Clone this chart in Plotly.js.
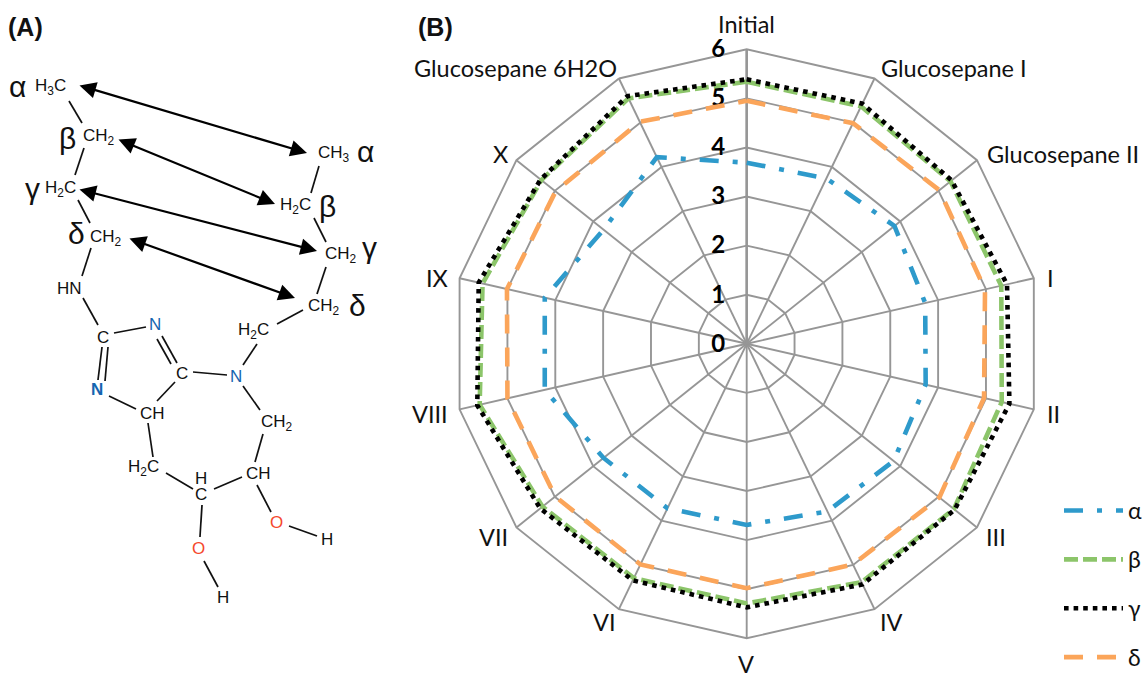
<!DOCTYPE html>
<html>
<head>
<meta charset="utf-8">
<script src="https://cdn.plot.ly/plotly-3.0.1.min.js"></script>
<style>html,body{margin:0;padding:0;background:#fff;overflow:hidden}#chart{width:1142px;height:675px}</style>
</head>
<body>
<div id="chart"></div>
<script>
// Radar data (one value per category)
var categories = ["Initial","Glucosepane I","Glucosepane II","I","II","III","IV","V","VI","VII","VIII","IX","X","Glucosepane 6H2O"];
var alpha = [3.69,3.74,3.85,3.73,3.74,3.83,3.79,3.69,3.72,3.73,4.22,4.22,3.73,4.22];
var beta  = [5.34,5.37,5.31,5.32,5.33,5.40,5.39,5.29,5.30,5.32,5.58,5.52,5.35,5.55];
var gamma = [5.39,5.43,5.34,5.44,5.49,5.42,5.44,5.37,5.35,5.38,5.63,5.60,5.37,5.60];
var delta = [4.95,4.99,5.02,4.98,4.96,5.02,4.99,4.98,4.99,4.99,5.00,5.01,4.98,5.02];
var radialTicks = [0,1,2,3,4,5,6];
// Centres of the category labels, in picture pixels, same order as categories
var categoryLabelX = [747,954,1063,1050,1053,996,891,746,604,493,430,437,500,515];
var categoryLabelY = [24,68,154,278,414,537,622,664,622,537,414,278,154,68];

// Molecule diagram of panel (A), in picture pixels
var atoms = [
 ["H<sub>3</sub>C",50,87],["CH<sub>2</sub>",99,137],["H<sub>2</sub>C",60,189],["CH<sub>2</sub>",106,238],["HN",69,288],
 ["CH<sub>3</sub>",334,154],["H<sub>2</sub>C",295,206],["CH<sub>2</sub>",341,255],["CH<sub>2</sub>",324,307],["H<sub>2</sub>C",253,331],
 ["C",103,337],["CH",152,413],["CH<sub>2</sub>",277,423],["H<sub>2</sub>C",143,468],["H",201,478],["C",201,494],["CH",258,473],["H",327,539],["H",223,597]
];
var blueAtoms = [["N",155,325],["<b>N</b>",97,390],["N",236,376]];
var blackC = [["C",182,373]];
var redAtoms = [["O",276,522],["O",198,548]];
var greek = [["α",17,86],["β",67,138],["γ",32,188],["δ",76,233],["α",365,152],["β",328,207],["γ",369,247],["δ",357,305]];
var bonds = [
 [69,101,82,123],[84,148,75,175],[78,200,90,223],[91,248,82,276],[83,298,98,325],
 [319,166,311,193],[314,218,326,242],[326,267,317,294],[303,310,277,324],
 [114,333,146,327],[108,347,105,381],[102,347,98,380],[162,336,177,363],[157,339,171,364],
 [109,396,136,409],[157,401,175,382],[193,372,227,375],[243,365,257,344],[243,386,260,410],
 [148,423,153,457],[263,434,255,462],[166,473,193,489],[214,489,242,477],[257,485,271,512],
 [289,526,317,536],[202,505,200,537],[204,561,218,587]
];
var arrows = [[78,85,307,153],[117,139,275,204],[78,189,317,251],[128,238,295,298]];

var W = 1142, H = 675;
var cx = 746.7, cy = 343.8, R = 294.5;
function px(x){return x/W;}
function py(y){return 1-y/H;}
function close(a){return a.concat([a[0]]);}

function series(name, values, color, dash){
  return {type:"scatterpolar", mode:"lines", name:name, legendgroup:name,
    r:close(values), theta:close(categories),
    line:{color:color, width:4.6, dash:dash, shape:"linear"}, hoverinfo:"name+r+theta"};
}
var traces = [
  series("α", alpha, "#2e9acb", "19px,14px,5px,14px"),
  series("β", beta, "#8cc56a", "14px,5px"),
  series("γ", gamma, "#000000", "4.6px,5px"),
  series("δ", delta, "#fba55a", "19px,14px")
];

var annotations = [];
function label(list, size, color, family){
  list.forEach(function(a){
    annotations.push({xref:"paper",yref:"paper",x:px(a[1]),y:py(a[2]),xanchor:"center",yanchor:"middle",
      text:a[0],showarrow:false,font:{size:size,color:color,family:family||"Liberation Sans"}});
  });
}
label(atoms,17,"#111111");
label(blackC,17,"#111111");
label(blueAtoms,17,"#1565b0");
label(redAtoms,17,"#f5472c");
label(greek,30,"#111111");
label([["<b>(A)</b>",25,27],["<b>(B)</b>",435,27]],25,"#111111");
label(categories.map(function(c,i){return [c,categoryLabelX[i],categoryLabelY[i]];}),23.5,"#111111","Lato");
arrows.forEach(function(a){
  annotations.push({xref:"paper",yref:"paper",x:px(a[2]),y:py(a[3]),ax:a[0]-a[2],ay:a[1]-a[3],axref:"pixel",ayref:"pixel",
    text:"",showarrow:true,arrowside:"end+start",arrowhead:2,startarrowhead:2,arrowsize:1.5,startarrowsize:1.5,arrowwidth:2.2,arrowcolor:"#000",standoff:0,startstandoff:0});
});
var shapes = bonds.map(function(b){
  return {type:"line",xref:"paper",yref:"paper",x0:px(b[0]),y0:py(b[1]),x1:px(b[2]),y1:py(b[3]),line:{color:"#111",width:1.7}};
});

var layout = {
  width:W, height:H, margin:{l:0,r:0,t:0,b:0,autoexpand:false}, paper_bgcolor:"#fff", plot_bgcolor:"#fff",
  font:{family:"Lato, 'Open Sans', sans-serif",color:"#111"},
  showlegend:true,
  legend:{xref:"container",yref:"container",x:1059/W,y:py(489),xanchor:"left",yanchor:"top",itemwidth:59,tracegroupgap:16,
    font:{size:23,color:"#111"},bgcolor:"rgba(0,0,0,0)",itemclick:false,itemdoubleclick:false},
  polar:{
    domain:{x:[(cx-R)/W,(cx+R)/W],y:[1-(cy+R)/H,1-(cy-R)/H]},
    gridshape:"linear", bgcolor:"rgba(0,0,0,0)",
    angularaxis:{type:"category",categoryorder:"array",categoryarray:categories,direction:"clockwise",rotation:90,
      showline:true,linecolor:"#969696",linewidth:1.9,gridcolor:"#969696",gridwidth:1.9,
      ticks:"",showticklabels:false,layer:"below traces"},
    radialaxis:{range:[0,6],tickmode:"array",tickvals:radialTicks,ticktext:radialTicks.map(String),angle:90,tickangle:90,side:"counterclockwise",
      showline:true,linecolor:"#969696",linewidth:2.5,gridcolor:"#969696",gridwidth:1.9,
      ticks:"outside",ticklen:12,tickcolor:"rgba(0,0,0,0)",tickfont:{size:24,color:"#000",family:"Lato",weight:"bold"},layer:"below traces"}
  },
  annotations:annotations, shapes:shapes
};
Plotly.newPlot("chart",traces,layout,{displayModeBar:false,staticPlot:true});
</script>
</body>
</html>
